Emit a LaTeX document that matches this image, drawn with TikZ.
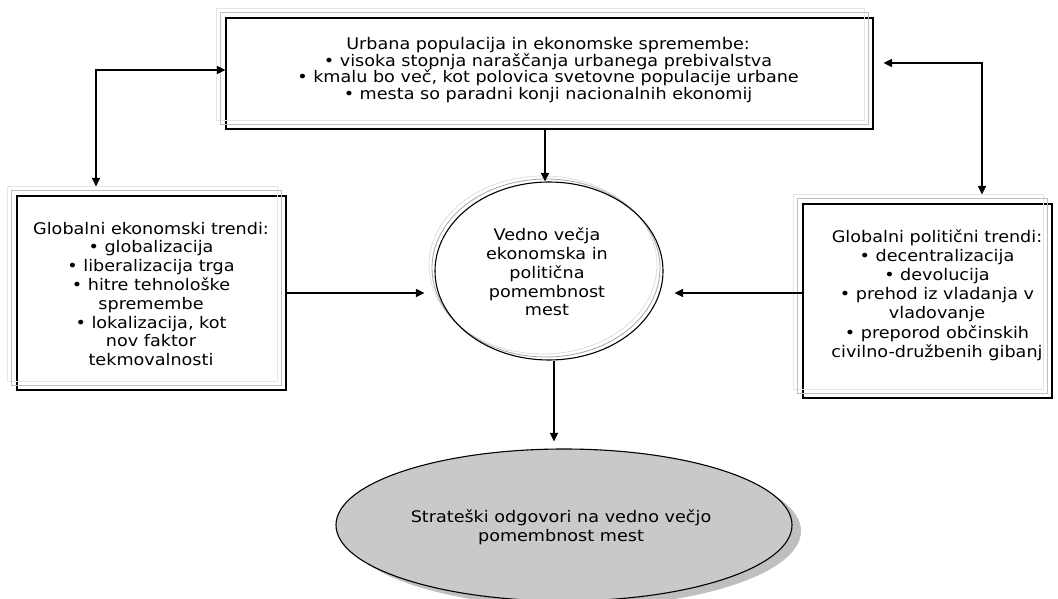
\documentclass[tikz,border=0pt]{standalone}
\usepackage{fontspec}
\setmainfont{DejaVu Sans}[FakeStretch=1.1]
\usetikzlibrary{arrows.meta,shapes.geometric,shadows}

\tikzset{
  tri/.tip={Triangle[length=8.5pt,width=8pt]},
  conn/.style={line width=1.1pt,draw=black},
  blackbox/.style={draw=black,line width=1.1pt,inner sep=0pt,
    minimum width=#1},
  frameA/.style={draw=black!25,line width=0.8pt},
  frameB/.style={draw=black!10,line width=0.8pt},
  txt/.style={align=center,inner sep=0pt,font=\fontsize{16}{#1}\selectfont},
}

\begin{document}
\begin{tikzpicture}[x=1pt,y=-1pt]
\useasboundingbox (0,0) rectangle (1058,599);
\fill[white] (0,0) rectangle (1058,599);
\clip (0,0) rectangle (1058,599);

% rectangular boxes
\node[blackbox=647pt,minimum height=111pt] (top) at (549.5,73.5) {};
\node[blackbox=269pt,minimum height=194pt] (econ) at (151.5,293) {};
\node[blackbox=249pt,minimum height=194pt] (pol) at (927.5,301) {};

% shaded offset frames behind each box
\foreach \b in {top,econ,pol}{
  \draw[frameB] ([shift={(-9,-9)}]\b.south west) rectangle ([shift={(-9,-9)}]\b.north east);
  \draw[frameA] ([shift={(-5,-5)}]\b.south west) rectangle ([shift={(-5,-5)}]\b.north east);
}

% central ellipse with its soft rings
\draw[black!13,line width=0.8pt] (543,265) ellipse [x radius=114pt,y radius=89pt];
\draw[black!35,line width=0.8pt] (546,268) ellipse [x radius=114pt,y radius=89pt];
\node[ellipse,draw=black,line width=1.1pt,inner sep=0pt,
  minimum width=228pt,minimum height=178pt] (circ) at (549,271) {};

% bottom ellipse with drop shadow
\node[ellipse,draw=black,line width=1.1pt,fill=black!21,inner sep=0pt,
  minimum width=456pt,minimum height=152pt,
  drop shadow={shadow xshift=9pt,shadow yshift=-6pt,fill=black!25,opacity=1}]
  (resp) at (564,525) {};

% texts
\node[txt=16.4pt] (topText) at (548,70) {Urbana populacija in ekonomske spremembe:\\
  • visoka stopnja naraščanja urbanega prebivalstva\\
  • kmalu bo več, kot polovica svetovne populacije urbane\\
  • mesta so paradni konji nacionalnih ekonomij};
\node[txt=18.8pt] (econText) at (151,294) {Globalni ekonomski trendi:\\
  • globalizacija\\ • liberalizacija trga\\ • hitre tehnološke\\ spremembe\\
  • lokalizacija, kot\\ nov faktor\\ tekmovalnosti};
\node[txt=19.2pt] (polText) at (937,295) {Globalni politični trendi:\\
  • decentralizacija\\ • devolucija\\ • prehod iz vladanja v\\ vladovanje\\
  • preporod občinskih\\ civilno-družbenih gibanj};
\node[txt=18.75pt] (circText) at (547,272) {Vedno večja\\ ekonomska in\\ politična\\ pomembnost\\ mest};
\node[txt=19pt] (respText) at (561,527.5) {Strateški odgovori na vedno večjo\\ pomembnost mest};

% connectors
\coordinate (lt) at (96,70);
\coordinate (rt) at (982,63);
\draw[conn,-tri] ([xshift=-4pt]circ.north |- top.south) -- ([xshift=-4pt]circ.north);
\draw[conn,tri-tri,shorten >=9pt] (top.west |- lt) -- (lt) -- (lt |- econ.north);
\draw[conn,tri-tri,shorten <=10pt,shorten >=9pt] (top.east |- rt) -- (rt) -- (rt |- pol.north);
\draw[conn,-tri,shorten >=10pt] (econ.east) -- (circ.west |- econ.east);
\draw[conn,-tri,shorten >=11pt] (pol.west |- econ.east) -- (circ.east |- econ.east);
\draw[conn,-tri,shorten >=7pt] ([xshift=5pt]circ.south) -- ([xshift=5pt]circ.south |- resp.north);
\end{tikzpicture}
\end{document}
